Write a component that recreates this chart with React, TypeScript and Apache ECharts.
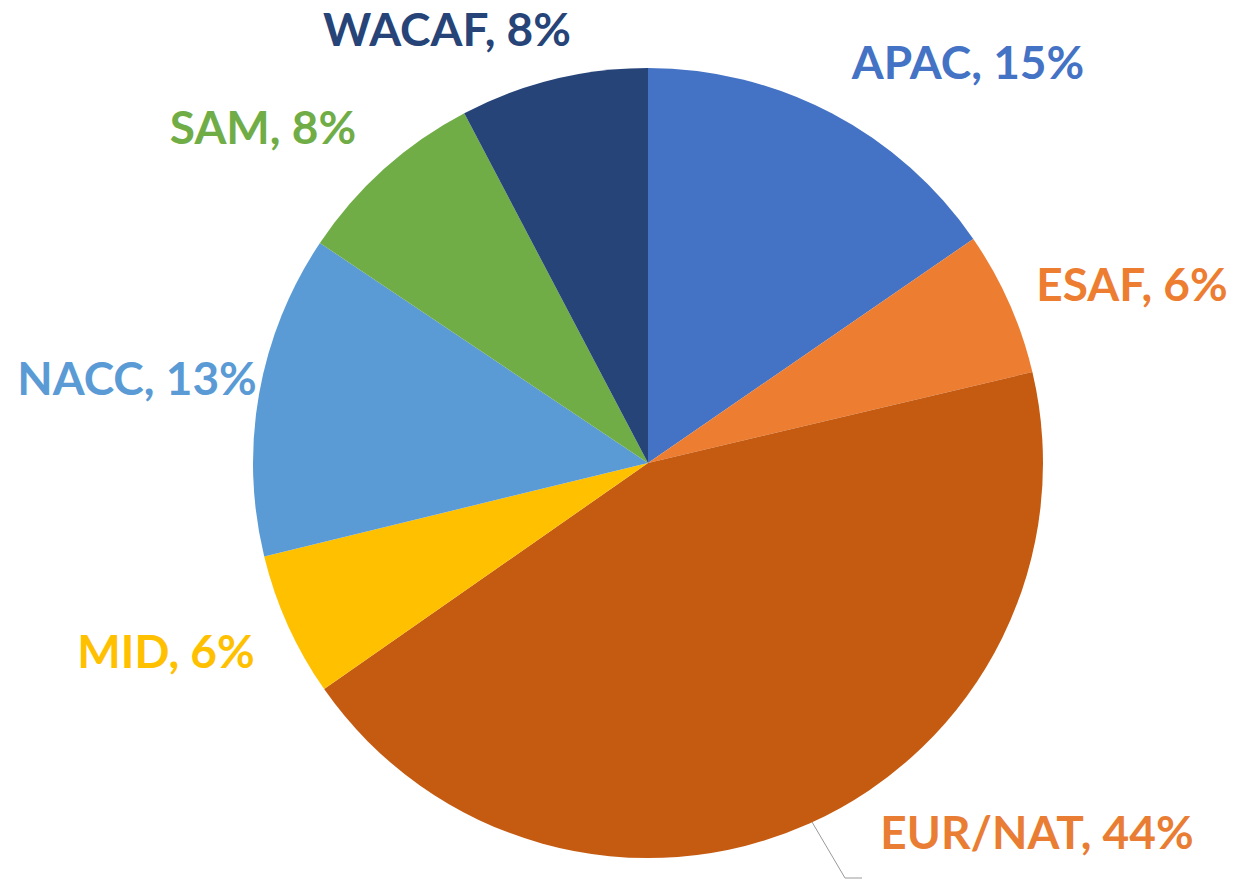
import React, { useEffect, useRef } from "react";
import * as echarts from "echarts";

const categories = ["APAC", "ESAF", "EUR/NAT", "MID", "NACC", "SAM", "WACAF"];
const shares = [15.4, 5.9, 44.0, 5.9, 13.2, 7.9, 7.7];
const sliceColors = ["#4472C4", "#ED7D31", "#C55A11", "#FFC000", "#5B9BD5", "#70AD47", "#264478"];
const labelColors = ["#4472C4", "#ED7D31", "#E97D33", "#FFC000", "#5B9BD5", "#70AD47", "#264478"];

// label centre positions (layout)
const labelPos: [number, number][] = [
  [968, 61],
  [1132, 283],
  [1037, 831],
  [166, 650],
  [137, 377],
  [263, 126],
  [447, 28],
];

export default function App() {
  const ref = useRef<HTMLDivElement>(null);
  useEffect(() => {
    if (!ref.current) return;
    const chart = echarts.init(ref.current, undefined, { renderer: "svg" });
    chart.setOption({
      animation: false,
      backgroundColor: "#ffffff",
      series: [
        {
          type: "pie",
          center: [648, 463],
          radius: [0, 395],
          startAngle: 90,
          clockwise: true,
          avoidLabelOverlap: false,
          data: categories.map((name, i) => ({
            name,
            value: shares[i],
            itemStyle: { color: sliceColors[i] },
            label: { color: labelColors[i] },
            labelLine: { show: i === 2 },
          })),
          label: {
            show: true,
            position: "outside",
            formatter: (p: any) => `${p.name}, ${Math.round(p.value)}%`,
            fontFamily: "Lato",
            fontWeight: "bold",
            fontSize: 46,
          },
          labelLine: {
            lineStyle: { color: "#9a9a9a", width: 1 },
          },
          labelLayout: (params: any) => {
            const i = params.dataIndex;
            const res: any = {
              x: labelPos[i][0],
              y: labelPos[i][1],
              align: "center",
              verticalAlign: "middle",
            };
            if (i === 2) {
              res.labelLinePoints = [
                [812, 822],
                [845, 878],
                [862, 878],
              ];
            }
            return res;
          },
        },
      ],
    });
    return () => chart.dispose();
  }, []);
  return (
    <div
      ref={ref}
      style={{ position: "fixed", left: 0, top: 0, width: 1239, height: 880 }}
    />
  );
}
